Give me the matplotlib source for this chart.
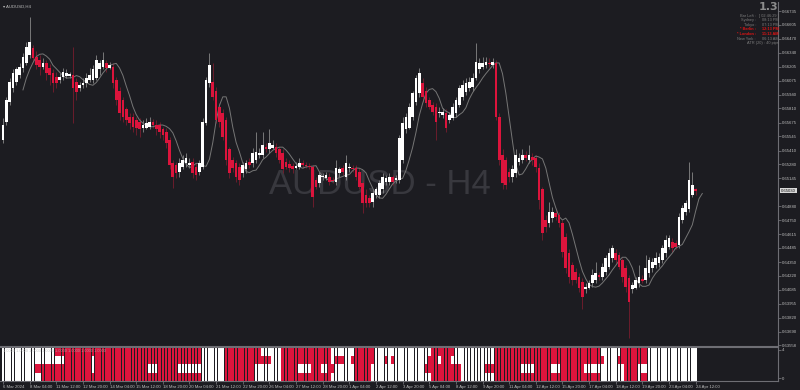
import numpy as np
import pandas as pd
import matplotlib
matplotlib.use('Agg')
import matplotlib.pyplot as plt

# AUDUSD H4 quotes, in units of 0.0001
open_pips = [6551, 6568, 6587, 6600, 6606, 6613, 6619, 6624, 6632, 6638, 6630, 6627, 6620, 6624, 6619, 6615, 6611, 6608, 6611, 6612,
             6612, 6613, 6606, 6600, 6603, 6605, 6608, 6608, 6610, 6618, 6620, 6624, 6619, 6620, 6608, 6598, 6589, 6580, 6573, 6573,
             6570, 6568, 6562, 6562, 6563, 6568, 6565, 6565, 6561, 6559, 6551, 6529, 6527, 6521, 6525, 6529, 6527, 6530, 6525, 6521,
             6525, 6567, 6605, 6606, 6598, 6582, 6577, 6570, 6542, 6532, 6529, 6525, 6520, 6523, 6530, 6529, 6532, 6537, 6537, 6544,
             6542, 6543, 6544, 6542, 6539, 6530, 6528, 6526, 6524, 6525, 6529, 6527, 6526, 6525, 6513, 6510, 6516, 6515, 6516, 6513,
             6511, 6520, 6524, 6516, 6524, 6524, 6524, 6521, 6510, 6499, 6496, 6492, 6499, 6499, 6504, 6511, 6511, 6516, 6513, 6513,
             6532, 6561, 6562, 6573, 6587, 6596, 6605, 6598, 6589, 6584, 6582, 6577, 6575, 6577, 6570, 6572, 6577, 6584, 6592, 6597,
             6600, 6601, 6610, 6618, 6620, 6622, 6624, 6622, 6624, 6573, 6537, 6532, 6521, 6516, 6520, 6530, 6532, 6537, 6532, 6535,
             6534, 6524, 6504, 6475, 6472, 6477, 6482, 6480, 6472, 6459, 6444, 6432, 6426, 6421, 6416, 6409, 6410, 6415, 6418, 6423,
             6421, 6426, 6430, 6439, 6444, 6442, 6437, 6429, 6420, 6409, 6410, 6415, 6419, 6418, 6425, 6429, 6432, 6434, 6437, 6444,
             6449, 6454, 6453, 6451, 6475, 6483, 6485, 6499, 6504]
high_pips = [6572, 6592, 6610, 6618, 6620, 6624, 6634, 6644, 6668, 6641, 6636, 6632, 6629, 6627, 6623, 6618, 6616, 6615, 6619, 6618,
             6616, 6639, 6610, 6606, 6610, 6615, 6619, 6622, 6632, 6627, 6635, 6627, 6625, 6624, 6611, 6601, 6592, 6582, 6577, 6577,
             6573, 6572, 6570, 6572, 6573, 6571, 6570, 6568, 6563, 6562, 6554, 6532, 6530, 6534, 6537, 6539, 6534, 6534, 6529, 6532,
             6572, 6611, 6634, 6624, 6601, 6586, 6580, 6573, 6544, 6535, 6532, 6529, 6530, 6532, 6534, 6543, 6559, 6543, 6559, 6548,
             6561, 6551, 6548, 6544, 6542, 6534, 6532, 6529, 6530, 6534, 6532, 6530, 6529, 6527, 6516, 6521, 6520, 6521, 6520, 6516,
             6532, 6525, 6527, 6537, 6529, 6527, 6527, 6524, 6513, 6504, 6499, 6504, 6506, 6513, 6520, 6518, 6520, 6518, 6518, 6556,
             6573, 6577, 6586, 6598, 6613, 6619, 6610, 6601, 6592, 6587, 6586, 6582, 6581, 6580, 6578, 6586, 6592, 6603, 6608, 6610,
             6611, 6615, 6643, 6629, 6630, 6630, 6629, 6629, 6627, 6577, 6542, 6535, 6524, 6527, 6542, 6539, 6542, 6541, 6546, 6539,
             6537, 6529, 6506, 6480, 6492, 6487, 6485, 6483, 6475, 6463, 6447, 6435, 6429, 6425, 6420, 6415, 6418, 6428, 6435, 6426,
             6434, 6442, 6448, 6451, 6447, 6445, 6439, 6432, 6423, 6416, 6421, 6432, 6423, 6442, 6440, 6439, 6445, 6444, 6451, 6461,
             6461, 6458, 6456, 6482, 6489, 6494, 6530, 6521, 6505]
low_pips = [6548, 6565, 6584, 6597, 6603, 6610, 6616, 6622, 6629, 6625, 6618, 6613, 6618, 6608, 6603, 6597, 6600, 6605, 6608, 6610,
            6610, 6567, 6589, 6598, 6600, 6601, 6606, 6605, 6608, 6613, 6618, 6616, 6618, 6600, 6584, 6570, 6568, 6565, 6561, 6559,
            6556, 6554, 6559, 6561, 6561, 6562, 6556, 6553, 6551, 6543, 6523, 6505, 6515, 6516, 6523, 6525, 6524, 6515, 6513, 6518,
            6523, 6565, 6601, 6589, 6567, 6563, 6551, 6527, 6515, 6521, 6511, 6508, 6516, 6520, 6524, 6525, 6529, 6534, 6534, 6540,
            6539, 6542, 6535, 6529, 6520, 6523, 6521, 6520, 6523, 6523, 6524, 6524, 6523, 6487, 6504, 6506, 6513, 6513, 6508, 6510,
            6508, 6516, 6518, 6513, 6521, 6521, 6513, 6504, 6482, 6487, 6487, 6487, 6496, 6496, 6501, 6508, 6508, 6508, 6510, 6510,
            6529, 6558, 6561, 6570, 6584, 6592, 6587, 6582, 6580, 6575, 6551, 6573, 6572, 6559, 6567, 6570, 6573, 6582, 6589, 6594,
            6598, 6598, 6608, 6615, 6618, 6619, 6620, 6619, 6570, 6527, 6504, 6504, 6511, 6511, 6516, 6527, 6529, 6531, 6529, 6527,
            6521, 6485, 6456, 6464, 6468, 6473, 6475, 6468, 6440, 6425, 6415, 6413, 6415, 6407, 6390, 6406, 6409, 6411, 6415, 6418,
            6418, 6423, 6428, 6435, 6434, 6428, 6416, 6407, 6363, 6406, 6409, 6411, 6415, 6415, 6421, 6426, 6429, 6430, 6434, 6440,
            6447, 6445, 6447, 6448, 6472, 6480, 6483, 6497, 6499]
close_pips = [6565, 6589, 6606, 6615, 6618, 6620, 6630, 6639, 6644, 6629, 6622, 6620, 6624, 6615, 6613, 6605, 6605, 6611, 6616, 6615,
              6614, 6600, 6597, 6603, 6605, 6610, 6613, 6618, 6627, 6624, 6627, 6619, 6622, 6605, 6589, 6577, 6573, 6570, 6567, 6563,
              6562, 6561, 6565, 6567, 6568, 6565, 6561, 6559, 6556, 6548, 6527, 6516, 6520, 6529, 6532, 6534, 6529, 6520, 6518, 6529,
              6568, 6608, 6622, 6592, 6570, 6568, 6554, 6532, 6520, 6524, 6516, 6513, 6527, 6529, 6527, 6539, 6540, 6539, 6546, 6542,
              6548, 6546, 6539, 6532, 6523, 6525, 6524, 6523, 6526, 6529, 6527, 6526, 6525, 6497, 6506, 6518, 6517, 6518, 6511, 6512,
              6524, 6523, 6521, 6529, 6525, 6523, 6516, 6506, 6491, 6491, 6491, 6501, 6504, 6510, 6516, 6515, 6516, 6511, 6515, 6553,
              6567, 6573, 6582, 6596, 6610, 6615, 6592, 6586, 6582, 6578, 6568, 6578, 6578, 6562, 6575, 6582, 6589, 6600, 6603, 6605,
              6606, 6610, 6625, 6624, 6624, 6625, 6623, 6625, 6573, 6532, 6510, 6508, 6516, 6523, 6537, 6534, 6537, 6534, 6537, 6532,
              6525, 6494, 6463, 6468, 6483, 6483, 6478, 6472, 6445, 6429, 6421, 6418, 6418, 6410, 6402, 6411, 6415, 6423, 6425, 6421,
              6430, 6439, 6444, 6448, 6437, 6430, 6421, 6411, 6397, 6413, 6418, 6421, 6417, 6429, 6437, 6435, 6439, 6440, 6448, 6456,
              6458, 6448, 6449, 6478, 6486, 6491, 6513, 6508, 6503]

# 0.65015 sits under the current-price box, so it is not shown
price_ticks = [0.66735, 0.66605, 0.66470, 0.66340, 0.66205, 0.66075, 0.65940, 0.65810, 0.65675, 0.65545, 0.65410, 0.65280,
               0.65145, 0.64880, 0.64750, 0.64615, 0.64485, 0.64350, 0.64220, 0.64085, 0.63955, 0.63820, 0.63690, 0.63558]

date_labels = ['6 Mar 2024', '8 Mar 04:00', '11 Mar 12:00', '12 Mar 20:00', '14 Mar 04:00', '15 Mar 12:00', '18 Mar 20:00',
               '20 Mar 04:00', '21 Mar 12:00', '22 Mar 20:00', '26 Mar 04:00', '27 Mar 12:00', '28 Mar 20:00', '1 Apr 04:00',
               '2 Apr 12:00', '3 Apr 20:00', '5 Apr 04:00', '8 Apr 12:00', '9 Apr 20:00', '11 Apr 04:00', '12 Apr 12:00',
               '15 Apr 20:00', '17 Apr 04:00', '18 Apr 12:00', '19 Apr 20:00', '23 Apr 04:00', '24 Apr 12:00']

# lower window: bar ranges (inclusive) where each of the 4 levels is bearish
level1_red = [(12, 59), (67, 75), (84, 98), (106, 110), (129, 137), (148, 179), (187, 190), (192, 193)]
level2_red = [(10, 26), (28, 43), (47, 52), (67, 75), (84, 88), (93, 95), (98, 99), (106, 110), (127, 137),
              (145, 155), (160, 164), (168, 174), (187, 190)]
level3_red = [(19, 26), (28, 59), (67, 80), (84, 98), (100, 102), (105, 111), (115, 115), (117, 117), (128, 130),
              (132, 134), (148, 180), (185, 193)]
level4_red = [(16, 59), (67, 77), (84, 98), (106, 111), (129, 135), (148, 179), (186, 193)]

info_rows = [('Bar Left :', '[ 02:46:29 ]', False), ('Sydney :', '08:13 PM', False), ('Tokyo :', '07:13 PM', False),
             ('* Berlin :', '12:13 PM', True), ('* London :', '11:13 AM', True), ('New York :', '06:13 AM', False)]

bg = '#1c1c21'
up_col = '#ffffff'
down_col = '#dc143c'
axis_col = '#6e6e74'
label_col = '#bdbdbd'
fs = 3.1

plt.rcParams['font.family'] = ['Liberation Sans', 'DejaVu Sans']

o = np.array(open_pips) / 10000.0
h = np.array(high_pips) / 10000.0
l = np.array(low_pips) / 10000.0
c = np.array(close_pips) / 10000.0
n = len(c)
x = np.arange(n)

W, H = 800, 390
fig = plt.figure(figsize=(8, 3.9), dpi=100, facecolor=bg)
ax = fig.add_axes([0, 1 - 346 / H, 778 / W, 344 / H])
ax2 = fig.add_axes([0, 1 - 381 / H, 778 / W, 34 / H])

xlo, xhi = -3 / 3.33, 775 / 3.33
for a in (ax, ax2):
    a.set_facecolor(bg)
    a.set_xlim(xlo, xhi)
    for s in ('left', 'top'):
        a.spines[s].set_visible(False)
    for s in ('right', 'bottom'):
        a.spines[s].set_color(axis_col)
        a.spines[s].set_linewidth(0.8)

# candles
up = c >= o
wick_cols = np.where(up, '#9c9c9c', '#8a1c30')
ax.vlines(x, l, h, colors=wick_cols, linewidth=0.5, zorder=2)
body_lo = np.minimum(o, c)
body_h = np.maximum(np.abs(c - o), 0.00009)
ax.bar(x, body_h, bottom=body_lo, width=0.8, color=np.where(up, up_col, down_col), linewidth=0, zorder=3)

# moving average (5, shifted 2 bars)
ma = pd.Series(c).rolling(5).mean()
ax.plot(x + 2, ma, color='#767676', linewidth=0.7, zorder=2.5)

ax.set_ylim(0.63553, 0.66821)
ax.yaxis.tick_right()
ax.set_yticks(price_ticks)
ax.set_yticklabels(['%.5f' % p for p in price_ticks])
ax.tick_params(axis='y', colors=axis_col, labelcolor=label_col, labelsize=fs, length=2, width=0.6, pad=0.8)
ax.set_xticks([])

ax.text(0.488, 0.469, 'AUDUSD - H4', transform=ax.transAxes, ha='center', va='center',
        fontsize=25, color='#38383e', zorder=1)
ax.text(0.004, 0.993, '\u25BE AUDUSD,H4', transform=ax.transAxes, ha='left', va='top', fontsize=fs,
        color=label_col)

# current price marker
ax.text(1.004, c[-1], '%.5f' % c[-1], transform=ax.get_yaxis_transform(), ha='left', va='center',
        fontsize=fs, color='#111111', clip_on=False,
        bbox=dict(boxstyle='square,pad=0.2', facecolor='#d9d9d9', edgecolor='none'))

# info panel
fig.text(778 / W, 1 - 2 / H, '1.3', ha='right', va='top', fontsize=8, color='#8c8c8c',
         fontweight='bold', family='DejaVu Sans')
for k, (name, val, hot) in enumerate(info_rows):
    yy = 1 - (15.7 + 4.6 * k) / H
    col = '#e01414' if hot else '#7c7c7c'
    wt = 'bold' if hot else 'normal'
    fig.text(756 / W, yy, name, ha='right', va='center', fontsize=2.8, color=col, fontweight=wt)
    fig.text(779 / W, yy, val, ha='right', va='center', fontsize=2.8, color=col, fontweight=wt)
fig.text(779 / W, 1 - 43.3 / H, 'ATR (20) : 40 pips', ha='right', va='center', fontsize=2.8, color='#7c7c7c')

# lower window grid of states
levels = [level1_red, level2_red, level3_red, level4_red]
for r, spans in enumerate(levels):
    state = np.zeros(n, dtype=bool)
    for a0, a1 in spans:
        state[a0:a1 + 1] = True
    ax2.bar(x, 1, bottom=r, width=0.78, color=np.where(state, down_col, up_col), linewidth=0)

ax2.set_ylim(0, 4)
ax2.spines['top'].set_visible(True)
ax2.spines['top'].set_color(axis_col)
ax2.yaxis.tick_right()
ax2.set_yticks([0.35, 3.65])
ax2.set_yticklabels(['0', '4'])
ax2.tick_params(axis='y', colors=axis_col, labelcolor=label_col, labelsize=fs, length=2, width=0.6, pad=0.8)
ax2.text(0.004, 0.93, '1.0000 1.0000 1.0000 1.0000 1.0000 1.0000 1.0000 1.0000', transform=ax2.transAxes,
         ha='left', va='top', fontsize=2.8, color='#b4b4b4', alpha=0.8)

tick_pos = np.arange(len(date_labels)) * 8
ax2.set_xticks(tick_pos)
ax2.set_xticklabels(date_labels, ha='left')
ax2.tick_params(axis='x', colors=axis_col, labelcolor=label_col, labelsize=fs, length=2, width=0.6, pad=0.8)

fig.savefig('out.png', dpi=100, facecolor=bg)
